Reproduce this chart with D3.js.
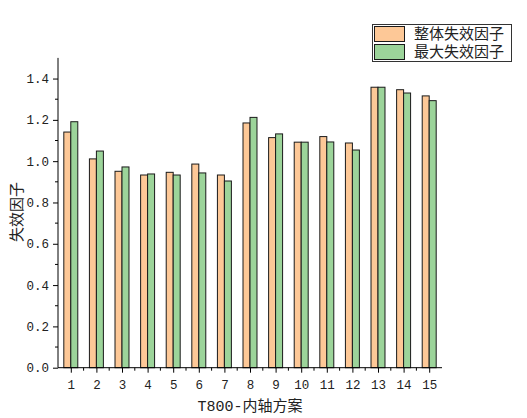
<!DOCTYPE html>
<html><head><meta charset="utf-8">
<script src="https://cdn.jsdelivr.net/npm/d3@7"></script>
<style>
body{margin:0;background:#fff;}
text{font-family:"Liberation Mono","Noto Sans CJK SC",monospace;}
</style></head>
<body><svg id="c" width="527" height="418"></svg>
<script>
const categories = [1,2,3,4,5,6,7,8,9,10,11,12,13,14,15];
const overall = [1.141,1.011,0.951,0.933,0.946,0.986,0.933,1.185,1.114,1.092,1.119,1.088,1.358,1.346,1.316];
const maximum = [1.191,1.049,0.972,0.938,0.933,0.943,0.904,1.212,1.132,1.092,1.093,1.054,1.358,1.330,1.293];
const seriesNames = ["整体失效因子","最大失效因子"];
const yTicks = [0,0.2,0.4,0.6,0.8,1.0,1.2,1.4];
const colors = ["#FDC897","#9CD49A"];

const svg = d3.select("#c");
const x = d3.scaleLinear().domain([0.5,15.5]).range([58,442]);
const y = d3.scaleLinear().domain([0,1.5]).range([367.7,57.9]);
const bw = 0.273;

const series = [overall, maximum];
series.forEach((vals,si)=>{
  svg.append("g").selectAll("rect").data(vals).join("rect")
    .attr("x",(d,i)=>x(categories[i] + (si===0 ? -bw : 0)))
    .attr("width",x(bw)-x(0))
    .attr("y",d=>y(d))
    .attr("height",d=>y(0)-y(d))
    .attr("fill",colors[si])
    .attr("stroke","#1a1a1a")
    .attr("stroke-width",1);
});

// y axis
const yAxis = d3.axisLeft(y).tickValues(yTicks).tickSize(5).tickFormat(d3.format(".1f"));
const gy = svg.append("g").attr("transform","translate(58,0)").call(yAxis);
gy.select(".domain").attr("d",`M-0,${y(0)}V${y(1.5)}`).attr("stroke","#000");
gy.selectAll(".tick text").attr("font-size",12.5).attr("x",-9).attr("fill","#222")
  .attr("font-family","Liberation Mono");
svg.append("g").selectAll("line").data(d3.range(0.1,1.5,0.2)).join("line")
  .attr("x1",55).attr("x2",58).attr("y1",d=>y(d)).attr("y2",d=>y(d)).attr("stroke","#000");

// x axis
const xAxis = d3.axisBottom(x).tickValues(categories).tickSize(5).tickFormat(d3.format("d"));
const gx = svg.append("g").attr("transform",`translate(0,${y(0)})`).call(xAxis);
gx.select(".domain").attr("d",`M${x(0.5)},0H${x(15.5)}`).attr("stroke","#000");
gx.selectAll(".tick text").attr("font-size",12.5).attr("dy","1.1em").attr("fill","#222")
  .attr("font-family","Liberation Mono");
svg.append("g").selectAll("line").data(d3.range(1.5,15.5,1)).join("line")
  .attr("x1",d=>x(d)).attr("x2",d=>x(d)).attr("y1",y(0)).attr("y2",y(0)+3).attr("stroke","#000");

// titles
svg.append("text").attr("x",250).attr("y",411).attr("text-anchor","middle")
  .attr("font-size",15).attr("fill","#222").text("T800-内轴方案");
svg.append("text").attr("transform","translate(22,212) rotate(-90)").attr("text-anchor","middle")
  .attr("font-size",15).attr("fill","#222").text("失效因子");

// legend
const lg = svg.append("g");
lg.append("rect").attr("x",372.5).attr("y",24.5).attr("width",139).attr("height",37)
  .attr("fill","#fff").attr("stroke","#333");
seriesNames.forEach((n,i)=>{
  lg.append("rect").attr("x",374.5).attr("y",26.5+i*18).attr("width",30).attr("height",15)
    .attr("fill",colors[i]).attr("stroke","#1a1a1a");
  lg.append("text").attr("x",414).attr("y",39+i*18).attr("font-size",15)
    .attr("font-family","Noto Sans CJK SC").attr("fill","#222").text(n);
});
</script></body></html>
